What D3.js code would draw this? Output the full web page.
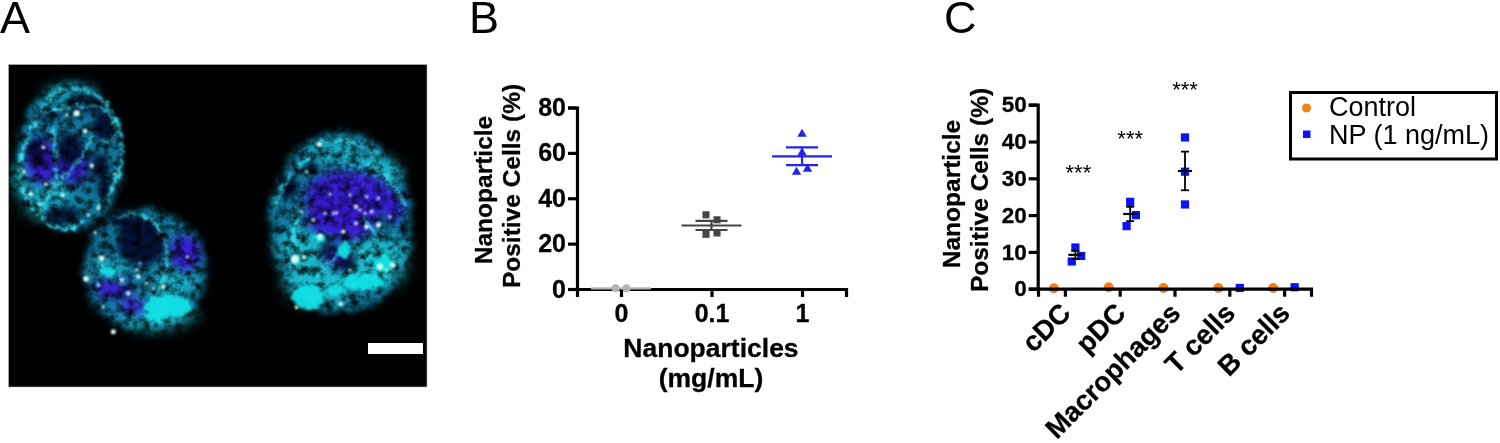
<!DOCTYPE html>
<html><head><meta charset="utf-8">
<script src="https://cdn.jsdelivr.net/npm/d3@7/dist/d3.min.js"></script>
<style>html,body{margin:0;padding:0;background:#fff}svg{display:block}text{font-family:"Liberation Sans",Arial,sans-serif;fill:#000}</style>
</head><body><svg id="c" width="1500" height="443"></svg>
<script>
// ---------- Panel B data ----------
const bCategories = ["0", "0.1", "1"];
const bTicks = [0, 20, 40, 60, 80];
const bPoints0 = [0.3, 0.3];
const bPoints01 = [32.7, 30.5, 24.1, 24.7];
const bPoints1 = [68.3, 60, 51.5, 52.9];
const bSlots0 = [-1, 1];
const bSlots01 = [-1, 1, -1, 1];
const bSlots1 = [0, 0, -1, 1];
const bMeans = [0.3, 28, 58.5];
const bSems = [0, 2, 3.9];
// ---------- Panel C data ----------
const cCategories = ["cDC", "pDC", "Macrophages", "T cells", "B cells"];
const cTicks = [0, 10, 20, 30, 40, 50];
const cGroups = ["Control", "NP (1 ng/mL)"];
const cControl = [0.1, 0.4, 0.2, 0.2, 0.2];
const cNpCdc = [7.4, 11.2, 8.9];
const cNpPdc = [17, 23.6, 20];
const cNpMac = [41.1, 31.8, 22.9];
const cNpT = [0.2];
const cNpB = [0.4];
const cSlotsCdc = [-1, 0, 1.6];
const cSlotsPdc = [-1, 0, 1.6];
const cSlotsMac = [0, 0, 0];
const cNpMeans = [9.2, 20.3, 32];
const cNpSems = [1.1, 1.95, 5.25];
const cStars = [32, 41.3, 54.6];
// ---------- Panel A: micrograph, read as [x, y, rx, ry] from the picture ----------
const cellBodies = [[210,321,160,220],[435,658,184,182],[1022,517,214,273]];
const darkHoles = [[255,160,60,26],[318,228,40,46],[185,495,55,22],[112,310,26,44],[300,350,26,38],[315,415,22,28],[150,190,28,18],[210,300,40,50],
  [425,575,72,72],[370,510,40,22],[865,412,28,34],[935,355,16,22],[1040,640,26,26],[990,600,24,16]];
const purpleBlobs = [[125,335,48,70],[220,350,45,50],[555,610,46,52],[340,715,58,28],[400,770,40,25],[1045,440,130,80],[1040,515,90,55],[960,500,38,48],[1180,470,28,48],[1010,620,38,28]];
const tealBlobs = [[330,660,55,30],[530,690,65,35],[900,590,70,60],[1120,370,85,50],[960,700,110,60],[1160,610,65,50],[1090,600,60,40],[1130,670,85,40],[160,420,55,35],[470,790,120,45],[1000,310,90,30],[70,380,30,70],[120,480,50,20],[210,130,80,20]];
const brightBlobs = [[505,770,72,32],[470,800,30,16],[925,742,50,36],[1090,695,64,24],[1150,640,30,24],[1030,600,16,24],[960,565,20,12],[325,665,24,14],[1010,720,30,16]];
const fibres = [
 [[160,225],[165,300],[172,385]],[[272,250],[262,310],[205,365],[135,440],[115,495],[150,535],[220,540],[250,515]],
 [[130,190],[210,170],[300,160],[345,210],[350,280],[300,275]],[[110,200],[70,290],[55,370],[75,440],[115,495]],
 [[120,180],[170,115],[240,105],[320,150],[365,240],[370,320],[340,420],[290,480]],
 [[350,505],[400,482],[470,510],[505,590],[500,670],[470,730]],[[300,640],[320,680],[380,700]],
 [[890,500],[870,570],[900,620]],[[1100,340],[1180,390],[1215,470]],[[960,275],[1050,265],[1130,310]],
 [[820,470],[860,380],[930,320]],[[950,680],[1000,620],[1060,590]],[[1130,560],[1090,500]]];
const dots = [[130,292,4],[255,243,5],[200,195,3],[230,190,8],[72,365,4],[92,432,5],[138,403,4],[188,435,5],[275,347,5],[345,372,3],[118,462,3],[295,474,4],[265,495,3],[285,548,3],
 [305,625,7],[258,686,7],[415,680,5],[365,690,4],[385,730,5],[440,700,3],[460,715,3],[410,660,3],[490,710,5],[562,620,3],[295,705,3],[340,845,6],[310,770,3],[420,640,2],
 [958,283,6],[885,628,11],[912,622,5],[905,485,3],[940,510,4],[960,560,7],[1068,470,5],[1068,520,4],[1100,530,6],[1135,525,6],[1115,485,4],[1095,490,3],[1135,445,3],[1000,490,3],[1010,488,3],[1030,545,5],[1178,645,7],[1140,650,8],[1050,660,3],[1022,762,5],[890,772,4],[1170,500,3],[990,432,3],[1050,435,3],[1100,440,3],[975,490,3],[1080,480,3],[920,365,3],[1160,660,3]];

const svg = d3.select("#c");
const defs = svg.append("defs");
function blur(id, s){ const f = defs.append("filter").attr("id",id).attr("x","-40%").attr("y","-40%").attr("width","180%").attr("height","180%").attr("color-interpolation-filters","sRGB"); f.append("feGaussianBlur").attr("stdDeviation",s); }
[["b3",3],["b14",14],["b24",24],["b9",9]].forEach(d=>blur(d[0],d[1]));
function roughF(id, freq, scale, sd, seed){
  const r = defs.append("filter").attr("id",id).attr("filterUnits","userSpaceOnUse").attr("x",0).attr("y",30).attr("width",1320).attr("height",1130).attr("color-interpolation-filters","sRGB");
  r.append("feTurbulence").attr("type","fractalNoise").attr("baseFrequency",freq).attr("numOctaves",3).attr("seed",seed).attr("result","n");
  r.append("feDisplacementMap").attr("in","SourceGraphic").attr("in2","n").attr("scale",scale).attr("xChannelSelector","R").attr("yChannelSelector","G").attr("result","d");
  r.append("feGaussianBlur").attr("in","d").attr("stdDeviation",sd);
}
roughF("rough",0.05,50,9,3);
roughF("wob",0.06,28,3.5,5);
// multiply the colours by a soft fibrous noise field
const mot = defs.append("filter").attr("id","mottle").attr("filterUnits","userSpaceOnUse").attr("x",0).attr("y",30).attr("width",1320).attr("height",1130).attr("color-interpolation-filters","sRGB");
mot.append("feTurbulence").attr("type","fractalNoise").attr("baseFrequency","0.04").attr("numOctaves",4).attr("seed",11).attr("result","n");
mot.append("feColorMatrix").attr("in","n").attr("type","matrix").attr("values","1.8 0 0 0 -0.15  1.8 0 0 0 -0.15  1.8 0 0 0 -0.15  0 0 0 0 1").attr("result","g");
mot.append("feGaussianBlur").attr("in","g").attr("stdDeviation",2).attr("result","gb");
mot.append("feComposite").attr("in","SourceGraphic").attr("in2","gb").attr("operator","arithmetic").attr("k1",1).attr("k2",0).attr("k3",0).attr("k4",0);

// ---------- Panel A ----------
svg.append("rect").attr("x",8.5).attr("y",64.5).attr("width",418.5).attr("height",322.5).attr("fill","#000").attr("stroke","#bbb").attr("stroke-width",0.6);
defs.append("clipPath").attr("id","imgclip").append("rect").attr("x",9).attr("y",65).attr("width",418).attr("height",322);
const img = svg.append("g").attr("clip-path","url(#imgclip)").append("g").attr("transform","translate(0,50) scale(0.3333)");
function ell(sel, arr, col, op, flt){ return sel.append("g").attr("filter",flt?`url(#${flt})`:null).selectAll("ellipse").data(arr).join("ellipse")
  .attr("cx",d=>d[0]).attr("cy",d=>d[1]).attr("rx",d=>d[2]).attr("ry",d=>d[3]).attr("fill",col).attr("opacity",op); }
const fibreLine = d3.line().curve(d3.curveBasis);
const tex = img.append("g").attr("filter","url(#mottle)");
ell(tex, cellBodies, "#11759a", 1, "rough");
ell(tex, tealBlobs, "#22cfdf", 0.8, "b24");
ell(tex, purpleBlobs, "#3a18d8", 0.95, "b14");
ell(tex, darkHoles, "#040a30", 0.92, "b9");
tex.append("g").attr("filter","url(#wob)").selectAll("path").data(fibres).join("path").attr("d",d=>fibreLine(d)).attr("fill","none").attr("stroke","#3ae4f4").attr("stroke-width",9).attr("opacity",.95);
ell(img, brightBlobs, "#12e2e6", 0.95, "wob");
img.append("g").attr("filter","url(#b3)").selectAll("circle").data(dots).join("circle").attr("cx",d=>d[0]).attr("cy",d=>d[1]).attr("r",d=>d[2]+1.5).attr("fill","#d8fff0");
svg.append("rect").attr("x",368).attr("y",343).attr("width",55).attr("height",11).attr("fill","#fff");

// ---------- Panel letters ----------
const letters = [["A",0,33],["B",469,33],["C",944,33]];
svg.selectAll("text.letter").data(letters).join("text").attr("class","letter").attr("x",d=>d[1]).attr("y",d=>d[2]).attr("font-size",45).text(d=>d[0]);

function styleAxis(g, size){
  g.selectAll("path.domain").attr("stroke","#000").attr("stroke-width",3.2);
  g.selectAll(".tick line").attr("stroke","#000").attr("stroke-width",3.2);
  g.selectAll(".tick text").attr("font-size",size).attr("font-weight","bold").attr("font-family",'"Liberation Sans",Arial,sans-serif').attr("stroke","#000").attr("stroke-width",0.3);
}
function vText(x,y,size,s){ svg.append("text").attr("transform",`translate(${x},${y}) rotate(-90)`).attr("text-anchor","middle").attr("font-size",size).attr("font-weight","bold").attr("stroke","#000").attr("stroke-width",0.3).text(s); }

// ---------- Panel B ----------
const bx = d3.scalePoint().domain(bCategories).range([577,846]).padding(0.486);
const by = d3.scaleLinear().domain([0,80]).range([289,107.5]);
const bGroups = [
  {cat:"0",vals:bPoints0,slots:bSlots0,col:"#b3b3b3",m:bMeans[0],s:bSems[0],shape:d3.symbolCircle,size:50,dx:5.5},
  {cat:"0.1",vals:bPoints01,slots:bSlots01,col:"#454545",m:bMeans[1],s:bSems[1],shape:d3.symbolSquare,size:50,dx:5.5},
  {cat:"1",vals:bPoints1,slots:bSlots1,col:"#2323f0",m:bMeans[2],s:bSems[2],shape:d3.symbolTriangle,size:38,dx:5.5}];
const gBx = svg.append("g").attr("transform","translate(0,289)").call(d3.axisBottom(bx).tickSizeOuter(0).tickSize(8).tickPadding(7));
styleAxis(gBx,25);
const gBy = svg.append("g").attr("transform","translate(577,0)").call(d3.axisLeft(by).tickValues(bTicks).tickSizeOuter(0).tickSize(9).tickPadding(2));
styleAxis(gBy,25);
bGroups.forEach(g=>{
  const cx = bx(g.cat);
  const mk = svg.append("g");
  mk.selectAll("path").data(g.vals).join("path").attr("d",d3.symbol(g.shape,g.size))
    .attr("transform",(d,i)=>`translate(${cx+g.slots[i]*g.dx},${by(d)})`).attr("fill",g.col);
  const ln = (x1,x2,y1,y2)=>svg.append("line").attr("x1",x1).attr("x2",x2).attr("y1",y1).attr("y2",y2).attr("stroke",g.col).attr("stroke-width",2.2);
  ln(cx-30,cx+30,by(g.m),by(g.m));
  if(g.s>0){ ln(cx-16,cx+16,by(g.m+g.s),by(g.m+g.s)); ln(cx-16,cx+16,by(g.m-g.s),by(g.m-g.s)); ln(cx,cx,by(g.m+g.s),by(g.m-g.s)); }
});
vText(492,190,24.5,"Nanoparticle");
vText(520,186,24.5,"Positive Cells (%)");
svg.append("text").attr("x",711).attr("y",357).attr("text-anchor","middle").attr("font-size",26.5).attr("font-weight","bold").attr("stroke","#000").attr("stroke-width",0.3).text("Nanoparticles");
svg.append("text").attr("x",711).attr("y",387).attr("text-anchor","middle").attr("font-size",26.5).attr("font-weight","bold").attr("stroke","#000").attr("stroke-width",0.3).text("(mg/mL)");

// ---------- Panel C ----------
const cx = d3.scalePoint().domain(cCategories).range([1038,1311]).padding(0.49);
const cOff = d3.scalePoint().domain(cGroups).range([-11,10.5]);
const cy = d3.scaleLinear().domain([0,50]).range([288.7,104.7]);
const npSets = [[cNpCdc,cSlotsCdc],[cNpPdc,cSlotsPdc],[cNpMac,cSlotsMac],[cNpT,[0]],[cNpB,[0]]];
svg.append("g").selectAll("circle").data(cControl).join("circle")
  .attr("cx",(d,i)=>cx(cCategories[i])+cOff(cGroups[0])).attr("cy",d=>cy(d)).attr("r",5).attr("fill","#f57f17");
npSets.forEach((set,i)=>{
  svg.append("g").selectAll("rect").data(set[0]).join("rect").attr("width",8.2).attr("height",8.2)
   .attr("x",(d,j)=>cx(cCategories[i])+cOff(cGroups[1])+set[1][j]*3.6-4.1).attr("y",d=>cy(d)-4.1).attr("fill","#0a14f5");
});
const gCx = svg.append("g").attr("transform","translate(0,288.7)").call(d3.axisBottom(cx).tickSizeOuter(0).tickSize(8).tickPadding(0));
styleAxis(gCx,27.5);
gCx.selectAll(".tick text").attr("text-anchor","end").attr("dy",0).attr("y",0).attr("transform","translate(7,26) rotate(-45)").attr("font-size",27.5);
const gCy = svg.append("g").attr("transform","translate(1037.7,0)").call(d3.axisLeft(cy).tickValues(cTicks).tickSizeOuter(0).tickSize(9).tickPadding(2));
styleAxis(gCy,22.5);
cNpMeans.forEach((m,i)=>{
  const x = cx(cCategories[i])+cOff(cGroups[1]);
  const ln = (x1,x2,y1,y2,w)=>svg.append("line").attr("x1",x1).attr("x2",x2).attr("y1",y1).attr("y2",y2).attr("stroke","#000").attr("stroke-width",w);
  ln(x-7,x+7,cy(m),cy(m),2.2);
  ln(x-4,x+4,cy(m+cNpSems[i]),cy(m+cNpSems[i]),1.8);
  ln(x-4,x+4,cy(m-cNpSems[i]),cy(m-cNpSems[i]),1.8);
  ln(x,x,cy(m+cNpSems[i]),cy(m-cNpSems[i]),1.8);
  svg.append("text").attr("x",x+ (i==0?3:0)).attr("y",cy(cStars[i])+9).attr("text-anchor","middle").attr("font-size",22).text("***");
});
vText(960,194,24.5,"Nanoparticle");
vText(988,190,24.5,"Positive Cells (%)");

// ---------- Legend ----------
svg.append("rect").attr("x",1290.5).attr("y",92.5).attr("width",206).attr("height",66.5).attr("fill","#fff").attr("stroke","#000").attr("stroke-width",3);
svg.append("circle").attr("cx",1306.5).attr("cy",108).attr("r",4.6).attr("fill","#f57f17");
svg.append("rect").attr("x",1303).attr("y",130.5).attr("width",7.5).attr("height",7.5).attr("fill","#0a14f5");
svg.append("text").attr("x",1329).attr("y",116).attr("font-size",27).text(cGroups[0]);
svg.append("text").attr("x",1329).attr("y",144).attr("font-size",27).text(cGroups[1]);
</script></body></html>
